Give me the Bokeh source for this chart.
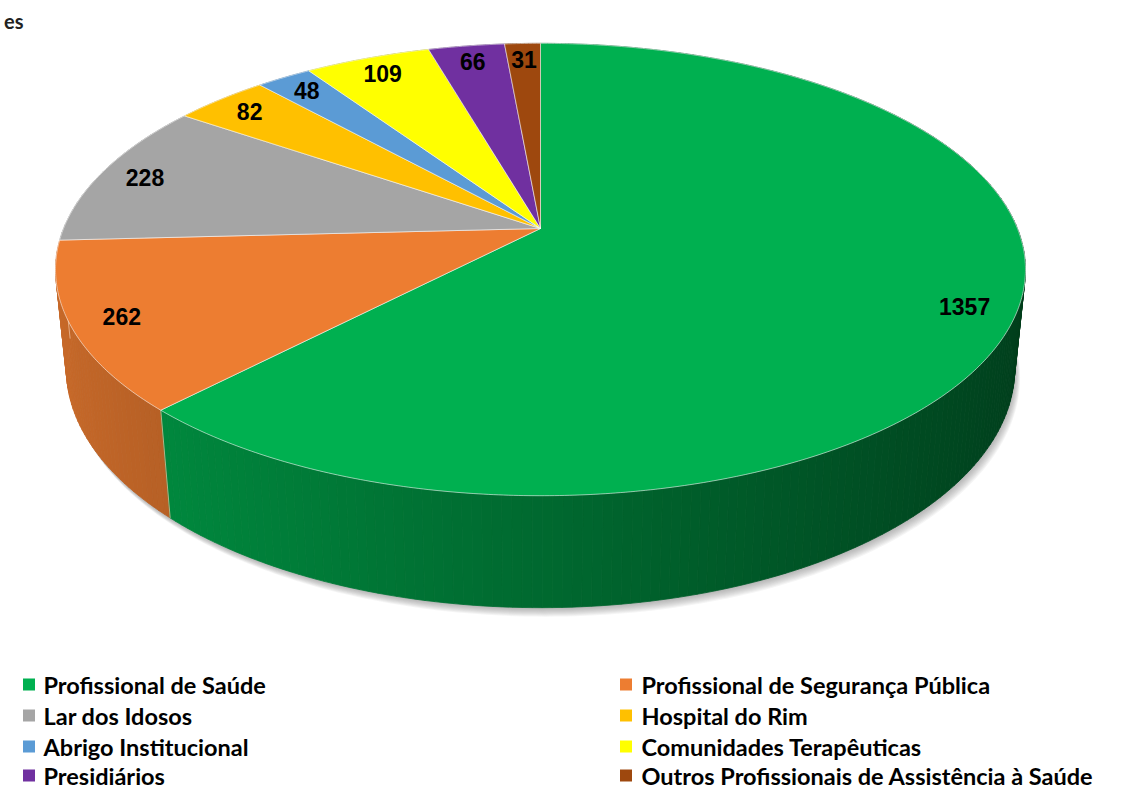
import numpy as np
from bokeh.plotting import figure
from bokeh.models import Range1d
from bokeh.embed import file_html
from bokeh.resources import INLINE
from bokeh.core.properties import value

# ---------------- data ----------------
categories = [
    "Profissional de Saúde",
    "Profissional de Segurança Pública",
    "Lar dos Idosos",
    "Hospital do Rim",
    "Abrigo Institucional",
    "Comunidades Terapêuticas",
    "Presidiários",
    "Outros Profissionais de Assistência à Saúde",
]
values = [1357, 262, 228, 82, 48, 109, 66, 31]
colors = ["#00B050", "#ED7D31", "#A5A5A5", "#FFC000",
          "#5B9BD5", "#FFFF00", "#7030A0", "#9E480E"]
labels = [str(v) for v in values]
title_fragment = "es"

# ---------------- layout ----------------
W, H = 1125, 789
CX, CY = 540.0, 228.0          # projected pie centre (apex of slices)
ELEV = np.radians(27.3)        # camera elevation
SE, CE = np.sin(ELEV), np.cos(ELEV)
D = 4.90                       # camera distance (pie radius = 1)
F = 2337.0                     # focal length in px
HT = 0.236                     # pie thickness


def proj(theta_deg, rf, z):
    t = np.radians(theta_deg)
    u = rf * np.sin(t)
    v = rf * np.cos(t)
    yc = v * SE + z * CE
    zc = v * CE + D - z * SE
    return CX + F * u / zc, CY - F * yc / zc


def shade(hexc, f):
    h = hexc.lstrip("#")
    r, g, b = (int(h[i:i + 2], 16) for i in (0, 2, 4))
    return "#%02x%02x%02x" % tuple(int(max(0, min(255, c * f))) for c in (r, g, b))


p = figure(width=W, height=H, output_backend="svg", toolbar_location=None,
           x_range=Range1d(0, W), y_range=Range1d(H, 0),
           min_border=0, outline_line_color=None)
p.axis.visible = False
p.grid.visible = False
p.background_fill_color = "white"
p.border_fill_color = "white"

total = float(sum(values))
bounds = np.concatenate([[0.0], np.cumsum(values) / total * 360.0])

# ---------------- shadow ----------------
tt = np.linspace(0, 360, 361)
bx, by = proj(tt, 1.0, -HT)
for i in range(1, 10):
    p.patch(bx + i * 0.6, by + i * 1.0, fill_color="#6f6f6f", fill_alpha=0.07,
            line_color=None)

# ---------------- side walls ----------------
strips = []
for i in range(len(values)):
    a0, a1 = bounds[i], bounds[i + 1]
    n = max(2, int(np.ceil((a1 - a0) / 1.0)))
    ts = np.linspace(a0, a1, n + 1)
    for j in range(n):
        t0, t1 = ts[j], ts[j + 1]
        tm = 0.5 * (t0 + t1)
        x0t, y0t = proj(t0, 1.0, 0.0)
        x1t, y1t = proj(t1, 1.0, 0.0)
        x0b, y0b = proj(t0, 1.0, -HT)
        x1b, y1b = proj(t1, 1.0, -HT)
        f = 0.60 - 0.25 * np.sin(np.radians(tm))
        c = shade(colors[i], f)
        strips.append((np.cos(np.radians(tm)),
                       [x0t, x1t, x1b, x0b], [y0t, y1t, y1b, y0b], c))
strips.sort(key=lambda s: -s[0])
p.patches(xs=[s[1] for s in strips], ys=[s[2] for s in strips],
          fill_color=[s[3] for s in strips], line_color=[s[3] for s in strips],
          line_width=0.8)

# slice edges on the wall
for i in range(len(values)):
    a = bounds[i]
    if np.cos(np.radians(a)) < 0.2:
        xt, yt = proj(a, 1.0, 0.0)
        xb, yb = proj(a, 1.0, -HT)
        p.line([xt, xb], [yt, yb], line_color="#f4c9a8", line_alpha=0.7, line_width=1)

# ---------------- top faces ----------------
txs, tys = [], []
for i in range(len(values)):
    a0, a1 = bounds[i], bounds[i + 1]
    ts = np.linspace(a0, a1, max(3, int((a1 - a0) * 2)))
    px, py = proj(ts, 1.0, 0.0)
    txs.append([CX] + list(px))
    tys.append([CY] + list(py))
p.patches(xs=txs, ys=tys, fill_color=colors, line_color="#FFFFFF",
          line_alpha=0.55, line_width=1)

# ---------------- value labels ----------------
mids = 0.5 * (bounds[:-1] + bounds[1:])
lx, ly = proj(mids, 0.90, 0.0)
p.text(x=list(lx), y=list(ly), text=labels, text_font=value("Liberation Sans"),
       text_font_style="bold", text_font_size="23px", text_color="#000000",
       text_align="center", text_baseline="middle")

# ---------------- title fragment (top-left) ----------------
p.text(x=[23], y=[20], text=[title_fragment], text_font=value("Lato"),
       text_font_style="bold", text_font_size="20px", text_color="#222222",
       text_align="right", text_baseline="middle")

# ---------------- legend ----------------
col_sq = [28.5, 625.5]
col_tx = [43, 641]
rows = [684, 715, 746, 775]
sqx, sqy, tx, ty = [], [], [], []
for k, name in enumerate(categories):
    r, c = divmod(k, 2)
    sqx.append(col_sq[c]); sqy.append(rows[r])
    tx.append(col_tx[c]); ty.append(rows[r])
p.rect(x=sqx, y=sqy, width=12, height=12, fill_color=colors, line_color=None)
p.text(x=tx, y=ty, text=categories, text_font=value("Lato"), text_font_style="bold",
       text_font_size="23.5px", text_color="#000000", text_align="left",
       text_baseline="middle")

open("out.html", "w").write(file_html(p, INLINE))
